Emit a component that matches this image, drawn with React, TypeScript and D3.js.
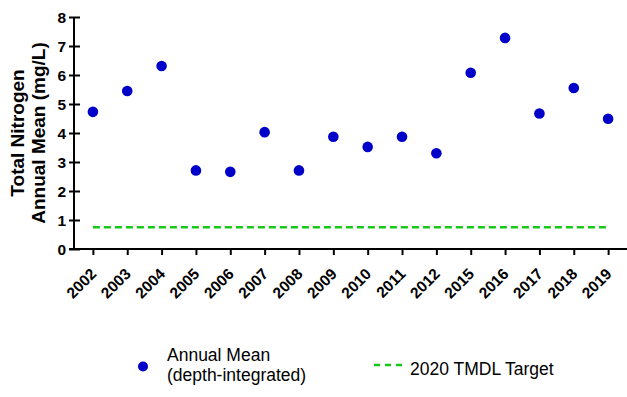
import React, { useEffect, useRef } from 'react'
import * as d3 from 'd3'

const years = ['2002', '2003', '2004', '2005', '2006', '2007', '2008', '2009', '2010', '2011', '2012', '2015', '2016', '2017', '2018', '2019']
const annualMean = [4.73, 5.45, 6.31, 2.71, 2.66, 4.03, 2.71, 3.87, 3.52, 3.87, 3.3, 6.08, 7.28, 4.67, 5.55, 4.49]
const tmdlTarget = 0.75
const yTicks = [0, 1, 2, 3, 4, 5, 6, 7, 8]

const width = 627
const height = 397
const margin = { top: 17, right: 0, bottom: 148, left: 74 }
const font = 'Arial, "Liberation Sans", sans-serif'
const dotColor = '#0000c8'
const lineColor = '#18c818'

export default function App() {
  const ref = useRef<SVGSVGElement>(null)

  useEffect(() => {
    const svg = d3.select(ref.current)
    svg.selectAll('*').remove()

    const x = d3.scalePoint<string>().domain(years).range([margin.left, width - margin.right]).padding(0.55)
    const y = d3.scaleLinear().domain([0, 8]).range([height - margin.bottom, margin.top])
    const y0 = y(0)

    // y axis
    const yAxis = svg.append('g').attr('transform', `translate(${margin.left},0)`)
      .call(d3.axisLeft(y).tickValues(yTicks).tickSize(5).tickSizeOuter(0))
    yAxis.select('.domain').attr('stroke', '#000').attr('stroke-width', 2)
      .attr('d', `M0,${y(8)}V${y0 + 1}`)
    yAxis.selectAll('.tick line').attr('stroke', '#000').attr('stroke-width', 2).attr('x1', 6).attr('x2', -5)
    yAxis.selectAll('.tick text').attr('x', -8).attr('dy', '0.36em')
      .style('font-family', font).style('font-size', '15.5px').style('font-weight', 'bold').attr('fill', '#000')

    // x axis
    const xAxis = svg.append('g').attr('transform', `translate(0,${y0})`)
      .call(d3.axisBottom(x).tickSize(6).tickSizeOuter(0))
    xAxis.select('.domain').attr('stroke', '#000').attr('stroke-width', 2)
      .attr('d', `M${margin.left - 5},0H${width}`)
    xAxis.selectAll('.tick line').attr('stroke', '#000').attr('stroke-width', 2)
    xAxis.selectAll('.tick text')
      .attr('x', 0).attr('y', 0).attr('dy', 0)
      .attr('transform', 'translate(4,26) rotate(-45)')
      .attr('text-anchor', 'end')
      .style('font-family', font).style('font-size', '15.5px').style('font-weight', 'bold').attr('fill', '#000')

    // y title
    const title = svg.append('text')
      .attr('transform', `translate(0,${(y(0) + y(8)) / 2}) rotate(-90)`)
      .attr('text-anchor', 'middle')
      .style('font-family', font).style('font-size', '19px').style('font-weight', 'bold')
    title.append('tspan').attr('x', 0).attr('y', 24).text('Total Nitrogen')
    title.append('tspan').attr('x', 0).attr('y', 45).text('Annual Mean (mg/L)')

    // target line
    svg.append('line')
      .attr('x1', x(years[0])!).attr('x2', x(years[years.length - 1])!)
      .attr('y1', y(tmdlTarget)).attr('y2', y(tmdlTarget))
      .attr('stroke', lineColor).attr('stroke-width', 2.5).attr('stroke-dasharray', '7,4')

    // points
    svg.append('g').selectAll('circle')
      .data(annualMean)
      .join('circle')
      .attr('cx', (_, i) => x(years[i])!)
      .attr('cy', d => y(d))
      .attr('r', 5.3)
      .attr('fill', dotColor)

    // legend
    const legend = svg.append('g').style('font-family', font).style('font-size', '17.5px')
    legend.append('circle').attr('cx', 143).attr('cy', 366.5).attr('r', 5).attr('fill', dotColor)
    const lt = legend.append('text').attr('x', 167)
    lt.append('tspan').attr('x', 167).attr('y', 361).text('Annual Mean')
    lt.append('tspan').attr('x', 167).attr('y', 381).text('(depth-integrated)')
    legend.append('line').attr('x1', 374).attr('x2', 402).attr('y1', 365).attr('y2', 365)
      .attr('stroke', lineColor).attr('stroke-width', 2.5).attr('stroke-dasharray', '6,5')
    legend.append('text').attr('x', 410).attr('y', 375).text('2020 TMDL Target')
  }, [])

  return (
    <svg ref={ref} width={width} height={height}
      style={{ position: 'absolute', left: 0, top: 0, background: '#fff' }} />
  )
}
